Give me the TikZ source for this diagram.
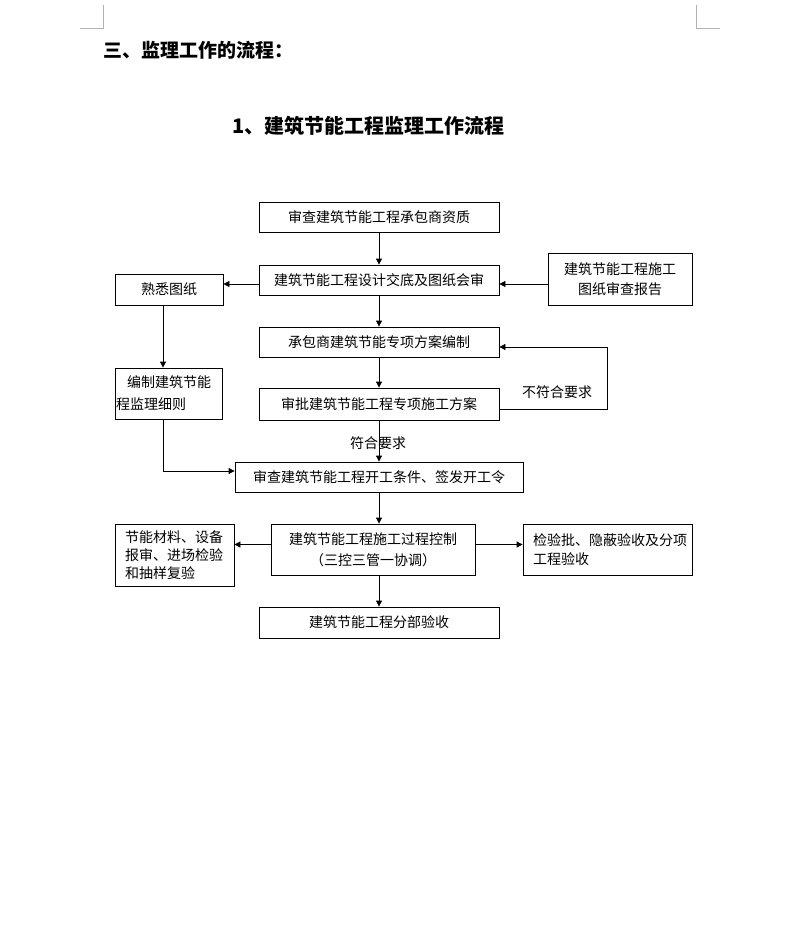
\documentclass[tikz,border=0pt]{standalone}
\usepackage{fontspec}
\setmainfont{Noto Sans CJK SC}
\usetikzlibrary{arrows.meta}
\usetikzlibrary{calc}

\begin{document}
\begin{tikzpicture}[x=1pt,y=-1pt,
    box/.style={draw, line width=0.8pt, inner sep=0pt, align=center, font=\fontsize{14}{20}\selectfont},
    lbox/.style={box, align=left, inner xsep=10pt},
    arr/.style={line width=0.8pt, -{Triangle[length=6pt,width=6pt]}},
    corner/.style={draw=black!30, line width=0.8pt}]
      \useasboundingbox (0,0) rectangle (790,937);

      % Page corners
      \draw[corner] (80,28) -- (103,28) -- (103,5);
      \draw[corner] (696,5) -- (696,28) -- (720,28);

      % Headings
      \node[anchor=west, inner sep=0pt, font=\fontsize{19}{22}\selectfont\bfseries] (head) at (103,50) {三、监理工作的流程：};
      \node[anchor=west, inner sep=0pt, font=\fontsize{20}{24}\selectfont\bfseries] (title) at (232,126) {1、建筑节能工程监理工作流程};

      % Main column
      \node[box, minimum width=240pt, minimum height=30pt] (shencha) at (379,217) {审查建筑节能工程承包商资质};
      \node[box, minimum width=240pt, minimum height=30pt] (jiaodi) at (379,280) {建筑节能工程设计交底及图纸会审};
      \node[box, minimum width=240pt, minimum height=30pt] (fangan) at (379,342) {承包商建筑节能专项方案编制};
      \node[box, minimum width=240pt, minimum height=32pt] (shenpi) at (379,404) {审批建筑节能工程专项施工方案};
      \node[box, minimum width=288pt, minimum height=30pt] (kaigong) at (379,477) {审查建筑节能工程开工条件、签发开工令};
      \node[box, minimum width=204pt, minimum height=51pt, font=\fontsize{14}{21}\selectfont] (guocheng) at (373,549.5) {建筑节能工程施工过程控制\\（三控三管一协调）};
      \node[box, minimum width=240pt, minimum height=31pt] (fenbu) at (379,622.5) {建筑节能工程分部验收};

      % Side boxes
      \node[box, minimum width=108pt, minimum height=31pt] (shuxi) at (169,289.5) {熟悉图纸};
      \node[box, minimum width=144pt, minimum height=52pt] (baogao) at (620,279) {建筑节能工程施工\\图纸审查报告};
      \node[lbox, inner xsep=1pt, text width=105pt, minimum height=51pt, font=\fontsize{14}{22}\selectfont] (xize) at (168.5,393.5) {\hspace*{11pt}编制建筑节能\\程监理细则};
      \node[lbox, text width=99pt, minimum height=62pt, font=\fontsize{14}{18}\selectfont] (cailiao) at (174.5,555) {节能材料、设备\\报审、进场检验\\和抽样复验};
      \node[lbox, text width=149pt, minimum height=51pt, font=\fontsize{14}{19}\selectfont] (yanshou) at (607.5,549.5) {检验批、隐蔽验收及分项\\工程验收};

      % Arrows
      \draw[arr] (shencha) -- (jiaodi);
      \draw[arr] ([yshift=-4pt]jiaodi.west) -- ([yshift=-4pt]jiaodi.west -| shuxi.east);
      \draw[arr] ([yshift=-4pt]jiaodi.east -| baogao.west) -- ([yshift=-4pt]jiaodi.east);
      \draw[arr] (jiaodi) -- (fangan);
      \draw[arr] ([xshift=-6pt]shuxi.south) -- ([xshift=-6pt]shuxi.south |- xize.north);
      \draw[arr] (fangan) -- (shenpi);
      \draw[arr] ([yshift=-5pt]shenpi.east) -- ++(108,0) |- ([yshift=-5pt]fangan.east);
      \draw[arr] (shenpi) -- (kaigong);
      \draw[arr] ([xshift=-5pt]xize.south) |- ([yshift=6pt]kaigong.west);
      \draw[arr] (kaigong.south) -- (kaigong.south |- guocheng.north);
      \draw[arr] ([yshift=5pt]guocheng.west) -- ([yshift=5pt]guocheng.west -| cailiao.east);
      \draw[arr] ([yshift=5pt]guocheng.east) -- ([yshift=5pt]guocheng.east -| yanshou.west);
      \draw[arr] (kaigong.south |- guocheng.south) -- (kaigong.south |- fenbu.north);

      % Labels
      \node[font=\fontsize{14}{16}\selectfont] (fuhe) at (378,443) {符合要求};
      \node[font=\fontsize{14}{16}\selectfont] (bufuhe) at (557,392) {不符合要求};

  \end{tikzpicture}
\end{document}
